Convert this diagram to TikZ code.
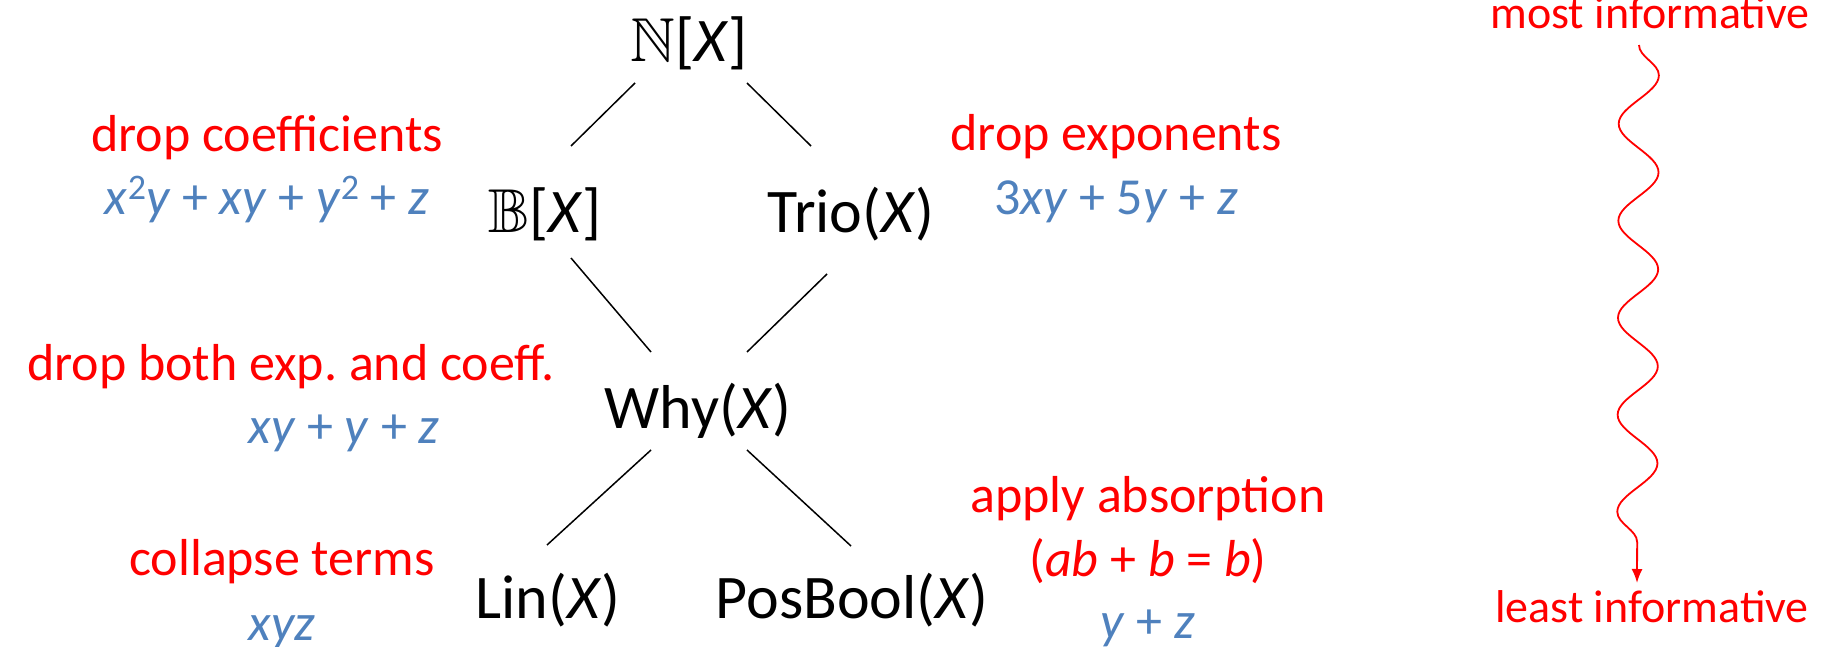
\documentclass[tikz,border=0pt]{standalone}
\usepackage{amssymb}
\usepackage{fontspec}
\setmainfont{Carlito}
\usetikzlibrary{decorations.pathmorphing,arrows.meta}
\definecolor{exblue}{HTML}{4F81BD}
\newcommand{\vr}[1]{\textit{#1}}
\newcommand{\sq}{\raisebox{0.62ex}{\fontsize{36}{40}\selectfont 2}}
\frenchspacing

\begin{document}
\begin{tikzpicture}[x=1pt,y=-1pt,
  alg/.style={font=\fontsize{62}{70}\selectfont, anchor=base, inner sep=0pt},
  rulelbl/.style={red, font=\fontsize{52}{60}\selectfont, anchor=base, inner sep=0pt},
  exlbl/.style={exblue, font=\fontsize{52}{60}\selectfont, anchor=base, inner sep=0pt},
  edge/.style={line width=1.5pt}]

\useasboundingbox (0,0) rectangle (1840,647);

% semirings
\node[alg] (nx) at (689,62) {$\mathbb{N}$[\vr{X}]};
\node[alg] (bx) at (545,233) {$\mathbb{B}$[\vr{X}]};
\node[alg] (trio) at (851,233) {Trio(\vr{X})};
\node[alg] (why) at (698,428) {Why(\vr{X})};
\node[alg] (lin) at (548,618) {Lin(\vr{X})};
\node[alg] (posbool) at (852,618) {PosBool(\vr{X})};

% order
\draw[edge] ([shift={(-54,21)}]nx.base) -- ([shift={(26,-87)}]bx.base);
\draw[edge] ([shift={(58,21)}]nx.base) -- ([shift={(-40,-87)}]trio.base);
\draw[edge] ([shift={(26,25)}]bx.base) -- ([shift={(-47,-76)}]why.base);
\draw[edge] ([shift={(-24,41)}]trio.base) -- ([shift={(49,-76)}]why.base);
\draw[edge] ([shift={(-47,22)}]why.base) -- ([shift={(-1,-73)}]lin.base);
\draw[edge] ([shift={(49,22)}]why.base) -- ([shift={(-1,-72)}]posbool.base);

% labels
\node[rulelbl] (dropcoef) at (267,152) {drop coefficients};
\node[exlbl] (excoef) at (267,215) {\vr{x}\sq\vr{y} + \vr{xy} + \vr{y}\sq{} + \vr{z}};
\node[rulelbl] (dropexp) at (1116,151) {drop exponents};
\node[exlbl] (exexp) at (1116,215) {3\vr{xy} + 5\vr{y} + \vr{z}};
\node[rulelbl] (dropboth) at (291,380) {drop both exp. and coeff.};
\node[exlbl] (exboth) at (344,443) {\vr{xy} + \vr{y} + \vr{z}};
\node[rulelbl] (collapse) at (282,575) {collapse terms};
\node[exlbl] (excollapse) at (282,640) {\vr{xyz}};
\node[rulelbl] (absorb) at (1148,512) {apply absorption};
\node[rulelbl] (absorbrule) at (1148,576) {(\vr{ab} + \vr{b} = \vr{b})};
\node[exlbl] (exabsorb) at (1148,638) {\vr{y} + \vr{z}};

% informativeness
\node[red, font=\fontsize{46}{54}\selectfont, anchor=base, inner sep=0pt] (most) at (1650,29) {most informative};
\node[red, font=\fontsize{46}{54}\selectfont, anchor=base, inner sep=0pt] (least) at (1652,622) {least informative};
\coordinate (wavetop) at (1639,45);
\coordinate (wavebot) at (1637,583);
\draw[red, line width=1.8pt, -{Latex[length=14pt,width=11pt]},
  decorate, decoration={snake, segment length=97pt, amplitude=20pt, post length=22pt}]
  (wavetop) -- (wavebot);

\end{tikzpicture}
\end{document}
